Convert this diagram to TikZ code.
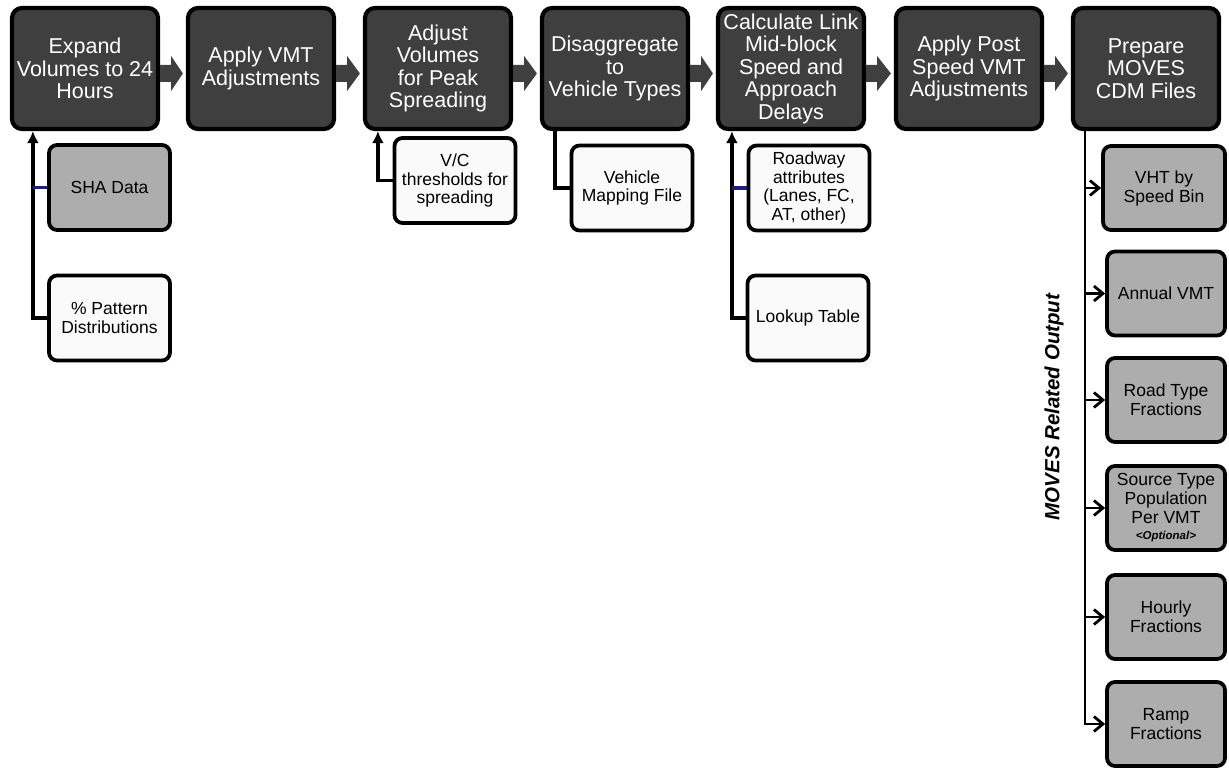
\documentclass[tikz,border=0pt]{standalone}
\usepackage{fontspec}
\setmainfont{Liberation Sans}
\usetikzlibrary{arrows.meta,calc}
\definecolor{boxdark}{HTML}{3F3F3F}
\definecolor{boxgray}{HTML}{ADADAD}
\definecolor{boxlight}{HTML}{FAFAFA}
\definecolor{navyline}{HTML}{1F1F7A}
\begin{document}
\begin{tikzpicture}[x=1pt,y=-1pt,
  topbox/.style={draw=black, line width=4.2pt, rounded corners=10pt, fill=boxdark, text=white,
    minimum width=146pt, minimum height=121pt, align=center, inner sep=0pt,
    font=\fontsize{21.5}{22.5}\selectfont},
  subbox/.style={draw=black, line width=3.8pt, rounded corners=8pt,
    minimum width=121pt, minimum height=85pt, align=center, inner sep=0pt,
    font=\fontsize{17.5}{18.5}\selectfont},
  graybox/.style={subbox, fill=boxgray},
  lightbox/.style={subbox, fill=boxlight},
  outbox/.style={subbox, fill=boxgray, minimum width=118pt, minimum height=84pt,
    font=\fontsize{17.5}{19}\selectfont},
  inarrow/.style={draw=black, line width=3.6pt, -{Latex[length=12pt,width=12pt]}},
  plainline/.style={draw=black, line width=3.6pt},
  navyconn/.style={draw=navyline, line width=3.6pt},
  outarrow/.style={draw=black, line width=2.8pt, -{Straight Barb[length=9pt,width=15pt,line width=2.8pt]}},
  fatarrow/.style={fill=boxdark}
]
\useasboundingbox (0,0) rectangle (1229,770);

% top process boxes
\node[topbox] (b1) at (85,68.5) {Expand\\Volumes to 24\\Hours};
\node[topbox] (b2) at (261,68.5) {Apply VMT\\Adjustments};
\node[topbox] (b3) at (438,68.5) {Adjust\\Volumes\\for Peak\\Spreading};
\node[topbox] (b4) at (615,68.5) {Disaggregate\\to\\Vehicle Types};
\node[topbox] (b5) at (791,68.5) {Calculate Link\\Mid-block\\Speed and\\Approach\\Delays};
\node[topbox] (b6) at (969,68.5) {Apply Post\\Speed VMT\\Adjustments};
\node[topbox] (b7) at (1146,68.5) {Prepare\\MOVES\\CDM Files};

% fat arrows between boxes
\foreach \a/\b in {b1/b2,b2/b3,b3/b4,b4/b5,b5/b6,b6/b7}{
  \fill[fatarrow] ($(\a.east)+(0,-3.5)$) -- ($(\a.east)+(11,-3.5)$) -- ($(\a.east)+(11,-12.5)$)
    -- ($(\b.west)+(-3,5)$) -- ($(\a.east)+(11,22.5)$) -- ($(\a.east)+(11,13.5)$)
    -- ($(\a.east)+(0,13.5)$) -- cycle;
}

% input boxes
\node[graybox] (sha) at (109.5,187.5) {SHA Data};
\node[lightbox] (pct) at (109.5,318) {\% Pattern\\Distributions};
\node[lightbox] (vc) at (455,180.5) {V/C\\thresholds for\\spreading};
\node[lightbox] (vmf) at (632,188) {Vehicle\\Mapping File};
\node[lightbox] (road) at (809,188) {Roadway\\attributes\\(Lanes, FC,\\AT, other)};
\node[lightbox] (look) at (808,318) {Lookup Table};

% connector anchors
\coordinate (c1) at ($(b1.south west)+(23,0)$);
\coordinate (c3) at ($(b3.south west)+(15,0)$);
\coordinate (c4) at ($(b4.south west)+(15,0)$);
\coordinate (c5) at ($(b5.south west)+(16,0)$);
\coordinate (c7) at ($(b7.south west)+(14,0)$);

\draw[inarrow] (pct.west) -| (c1);
\draw[navyconn] (sha.west) -- (sha.west -| c1);
\draw[inarrow] (vc.west) -| (c3);
\draw[plainline] (c4) |- (vmf.west);
\draw[inarrow] (look.west) -| (c5);
\draw[navyconn] (road.west) -- (road.west -| c5);

% output boxes
\node[outbox, minimum width=122pt] (vht) at (1164,188) {VHT by\\Speed Bin};
\node[outbox] (avmt) at (1166,293.5) {Annual VMT};
\node[outbox] (rtf) at (1166,400) {Road Type\\Fractions};
\node[outbox] (stp) at (1166,508) {Source Type\\Population\\Per VMT\\[-3pt]{\bfseries\itshape\fontsize{11.5}{12}\selectfont <Optional>}};
\node[outbox] (hf) at (1166,617) {Hourly\\Fractions};
\node[outbox] (rf) at (1166,724) {Ramp\\Fractions};

\draw[outarrow] (c7) |- (rf.west);
\foreach \n in {vht,avmt,rtf,stp,hf}{
  \draw[outarrow] (\n.west -| c7) -- (\n.west);
}

\node[rotate=90, font=\bfseries\itshape\fontsize{20.5}{22}\selectfont] (lbl) at (1054,407) {MOVES Related Output};
\end{tikzpicture}
\end{document}
